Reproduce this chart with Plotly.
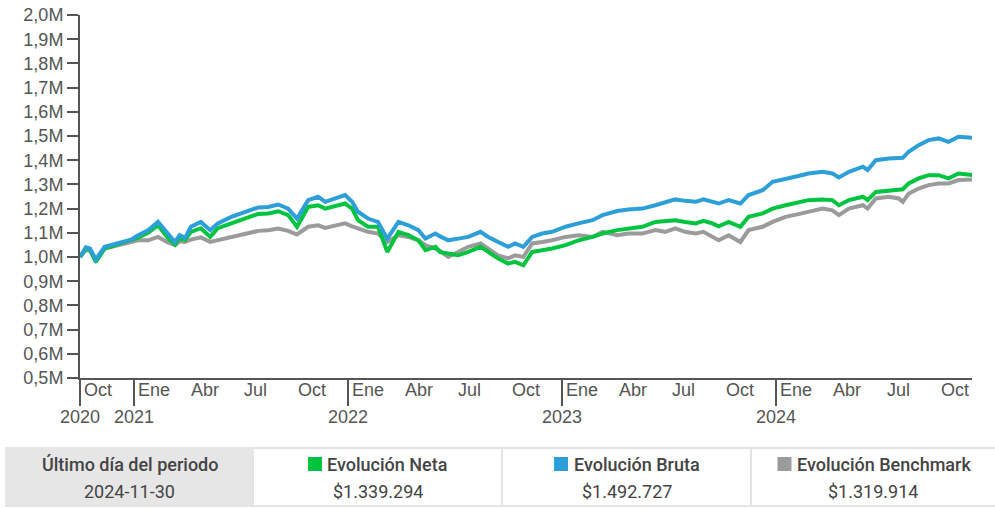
import plotly.graph_objects as go

# ---------------- data (values in millions) ----------------
dates = [
    "2020-10-01", "2020-10-11", "2020-10-18", "2020-10-28", "2020-11-12", "2020-12-05", "2020-12-27",
    "2021-01-08", "2021-01-25", "2021-02-11", "2021-02-28", "2021-03-12", "2021-03-20", "2021-03-29",
    "2021-04-08", "2021-04-25", "2021-05-11", "2021-05-24", "2021-06-16", "2021-07-09", "2021-08-01",
    "2021-08-18", "2021-09-04", "2021-09-21", "2021-10-06", "2021-10-25", "2021-11-11", "2021-11-23",
    "2021-12-10", "2021-12-27", "2022-01-08", "2022-01-18", "2022-02-04", "2022-02-21", "2022-03-09",
    "2022-03-28", "2022-04-14", "2022-05-01", "2022-05-13", "2022-05-30", "2022-06-07", "2022-06-21",
    "2022-07-08", "2022-07-25", "2022-08-15", "2022-08-28", "2022-09-14", "2022-10-01", "2022-10-13",
    "2022-10-27", "2022-11-11", "2022-11-28", "2022-12-15", "2023-01-07", "2023-01-29", "2023-02-22",
    "2023-03-11", "2023-04-05", "2023-04-24", "2023-05-18", "2023-06-09", "2023-06-26", "2023-07-13",
    "2023-07-30", "2023-08-17", "2023-08-30", "2023-09-14", "2023-09-25", "2023-10-12", "2023-11-01",
    "2023-11-15", "2023-12-09", "2023-12-26", "2024-01-17", "2024-02-08", "2024-02-25", "2024-03-20",
    "2024-04-06", "2024-04-17", "2024-05-04", "2024-05-28", "2024-06-05", "2024-06-19", "2024-07-11",
    "2024-07-28", "2024-08-04", "2024-08-14", "2024-08-31", "2024-09-17", "2024-10-04", "2024-10-21",
    "2024-11-07", "2024-11-30",
]

bruta = [
    1.000, 1.040, 1.035, 0.990, 1.042, 1.058, 1.072,
    1.090, 1.110, 1.145, 1.098, 1.062, 1.090, 1.078,
    1.125, 1.145, 1.111, 1.139, 1.166, 1.187, 1.205,
    1.207, 1.217, 1.200, 1.159, 1.235, 1.249, 1.228,
    1.242, 1.256, 1.228, 1.187, 1.159, 1.145, 1.076,
    1.145, 1.131, 1.111, 1.076, 1.097, 1.085, 1.069,
    1.076, 1.083, 1.104, 1.083, 1.062, 1.042, 1.056,
    1.042, 1.083, 1.097, 1.104, 1.125, 1.139, 1.152,
    1.173, 1.190, 1.196, 1.200, 1.214, 1.228, 1.238,
    1.232, 1.228, 1.238, 1.228, 1.221, 1.235, 1.221,
    1.256, 1.276, 1.311, 1.325, 1.335, 1.345, 1.352,
    1.345, 1.329, 1.352, 1.373, 1.359, 1.400, 1.407,
    1.411, 1.410, 1.435, 1.462, 1.483, 1.490, 1.476,
    1.497, 1.492727,
]

neta = [
    1.000, 1.035, 1.030, 0.980, 1.035, 1.052, 1.068,
    1.080, 1.100, 1.131, 1.078, 1.052, 1.080, 1.070,
    1.104, 1.119, 1.083, 1.119, 1.139, 1.159, 1.178,
    1.180, 1.189, 1.173, 1.125, 1.207, 1.214, 1.200,
    1.211, 1.221, 1.200, 1.152, 1.125, 1.125, 1.021,
    1.104, 1.090, 1.069, 1.028, 1.042, 1.020, 1.014,
    1.007, 1.021, 1.042, 1.021, 0.994, 0.973, 0.980,
    0.966, 1.021, 1.028, 1.035, 1.049, 1.069, 1.083,
    1.097, 1.111, 1.118, 1.125, 1.145, 1.149, 1.152,
    1.145, 1.139, 1.149, 1.139, 1.127, 1.145, 1.125,
    1.166, 1.180, 1.200, 1.214, 1.226, 1.235, 1.238,
    1.235, 1.214, 1.235, 1.249, 1.235, 1.269, 1.276,
    1.280, 1.280, 1.304, 1.325, 1.338, 1.338, 1.325,
    1.345, 1.339294,
]

benchmark = [
    1.000, 1.030, 1.025, 0.985, 1.035, 1.050, 1.062,
    1.069, 1.069, 1.083, 1.060, 1.049, 1.065, 1.062,
    1.072, 1.081, 1.062, 1.069, 1.083, 1.097, 1.108,
    1.111, 1.118, 1.108, 1.093, 1.125, 1.131, 1.120,
    1.131, 1.139, 1.127, 1.118, 1.104, 1.097, 1.062,
    1.090, 1.083, 1.069, 1.049, 1.035, 1.025, 1.000,
    1.021, 1.042, 1.056, 1.035, 1.007, 0.994, 1.007,
    1.000, 1.056, 1.062, 1.069, 1.083, 1.090, 1.083,
    1.104, 1.090, 1.097, 1.097, 1.111, 1.104, 1.118,
    1.104, 1.097, 1.104, 1.081, 1.069, 1.090, 1.062,
    1.111, 1.125, 1.145, 1.166, 1.177, 1.187, 1.200,
    1.193, 1.173, 1.200, 1.214, 1.200, 1.242, 1.249,
    1.242, 1.228, 1.262, 1.283, 1.297, 1.304, 1.304,
    1.318, 1.319914,
]

series_names = ["Evolución Neta", "Evolución Bruta", "Evolución Benchmark"]
series_colors = ["#00c43f", "#2c9fd9", "#9b9b9b"]
final_values = [1339294, 1492727, 1319914]
last_day = "2024-11-30"
first_day = "2020-10-01"

y_tick_vals = [0.5, 0.6, 0.7, 0.8, 0.9, 1.0, 1.1, 1.2, 1.3, 1.4, 1.5, 1.6, 1.7, 1.8, 1.9, 2.0]
y_tick_text = ["0,5M", "0,6M", "0,7M", "0,8M", "0,9M", "1,0M", "1,1M", "1,2M", "1,3M",
               "1,4M", "1,5M", "1,6M", "1,7M", "1,8M", "1,9M", "2,0M"]

month_dates = ["2020-10-01", "2021-01-01", "2021-04-01", "2021-07-01", "2021-10-01",
               "2022-01-01", "2022-04-01", "2022-07-01", "2022-10-01",
               "2023-01-01", "2023-04-01", "2023-07-01", "2023-10-01",
               "2024-01-01", "2024-04-01", "2024-07-01", "2024-10-01"]
month_labels = ["Oct", "Ene", "Abr", "Jul", "Oct", "Ene", "Abr", "Jul", "Oct",
                "Ene", "Abr", "Jul", "Oct", "Ene", "Abr", "Jul", "Oct"]
year_dates = ["2020-10-01", "2021-01-01", "2022-01-01", "2023-01-01", "2024-01-01"]
year_labels = ["2020", "2021", "2022", "2023", "2024"]

# ---------------- layout geometry ----------------
W, H = 995, 508
ML, MR, MT, MB = 80, 23, 15, 130
PW, PH = W - ML - MR, H - MT - MB


def px_x(px):
    return (px - ML) / PW


def px_y(py):
    return (H - MB - py) / PH


def fmt_money(v):
    return "$" + f"{v:,}".replace(",", ".")


AXFONT = "Liberation Sans, Arial"
AX = "#555555"

fig = go.Figure()
series_vals = [neta, bruta, benchmark]
for idx in [2, 0, 1]:
    fig.add_trace(go.Scatter(
        x=dates, y=series_vals[idx], mode="lines", name=series_names[idx],
        line=dict(color=series_colors[idx], width=4), hoverinfo="skip",
    ))

annotations = []
for d, lab in zip(month_dates, month_labels):
    annotations.append(dict(x=d, xref="x", y=px_y(390), yref="paper", text=lab,
                            xanchor="left", yanchor="middle", xshift=2, showarrow=False,
                            font=dict(family=AXFONT, size=18, color=AX)))
for d, lab in zip(year_dates, year_labels):
    annotations.append(dict(x=d, xref="x", y=px_y(417), yref="paper", text=lab,
                            xanchor="center", yanchor="middle", showarrow=False,
                            font=dict(family=AXFONT, size=18, color=AX)))

# ---------------- summary table under the chart ----------------
TXT = "#444444"
BORDER = "#e4e4e4"
cell_edges = [5, 254, 502, 751, 995]
top, bot = 447, 507
shapes = [
    dict(type="rect", xref="paper", yref="paper", x0=px_x(cell_edges[0]), x1=px_x(cell_edges[1]),
         y0=px_y(bot), y1=px_y(top), fillcolor="#e6e6e6", line=dict(width=0), layer="below"),
    dict(type="line", xref="paper", yref="paper", x0=px_x(cell_edges[1]), x1=px_x(cell_edges[4]),
         y0=px_y(448), y1=px_y(448), line=dict(color=BORDER, width=2)),
    dict(type="line", xref="paper", yref="paper", x0=px_x(cell_edges[0]), x1=px_x(cell_edges[4]),
         y0=px_y(506), y1=px_y(506), line=dict(color=BORDER, width=2)),
]
for e in cell_edges[2:4]:
    shapes.append(dict(type="line", xref="paper", yref="paper", x0=px_x(e), x1=px_x(e),
                       y0=px_y(bot), y1=px_y(top), line=dict(color=BORDER, width=2)))

annotations.append(dict(x=px_x(129.5), y=px_y(464), xref="paper", yref="paper",
                        text="Último día del periodo", showarrow=False, xanchor="center", yanchor="middle",
                        font=dict(family="Roboto", size=18, color=TXT, weight=500)))
annotations.append(dict(x=px_x(129.5), y=px_y(491), xref="paper", yref="paper",
                        text=last_day, showarrow=False, xanchor="center", yanchor="middle",
                        font=dict(family="Roboto", size=18, color=TXT)))

square_x = [308, 554, 777.5]
text_x = [325, 571.5, 795]
for i in range(3):
    cx = (cell_edges[i + 1] + cell_edges[i + 2]) / 2
    shapes.append(dict(type="rect", xref="paper", yref="paper",
                       x0=px_x(square_x[i]), x1=px_x(square_x[i] + 14),
                       y0=px_y(471), y1=px_y(457),
                       fillcolor=series_colors[i], line=dict(width=0)))
    annotations.append(dict(x=px_x(text_x[i]), y=px_y(464), xref="paper", yref="paper",
                            text=series_names[i], showarrow=False, xanchor="left", yanchor="middle",
                            font=dict(family="Roboto", size=18, color=TXT, weight=500)))
    annotations.append(dict(x=px_x(cx), y=px_y(491), xref="paper", yref="paper",
                            text=fmt_money(final_values[i]), showarrow=False, xanchor="center",
                            yanchor="middle", font=dict(family="Roboto", size=18, color=TXT)))

fig.update_layout(
    width=W, height=H,
    margin=dict(l=ML, r=MR, t=MT, b=MB, pad=0, autoexpand=False),
    paper_bgcolor="white", plot_bgcolor="white",
    showlegend=False,
    font=dict(family=AXFONT, size=18, color=AX),
    xaxis=dict(type="date", range=[first_day, last_day], showgrid=False, zeroline=False,
               showline=True, linecolor=AX, linewidth=2, automargin=False,
               ticks="outside", tickvals=year_dates, ticklen=26, tickwidth=2, tickcolor=AX,
               showticklabels=False, fixedrange=True),
    yaxis=dict(range=[0.5, 2.0], showgrid=False, zeroline=False, showline=True, automargin=False,
               linecolor=AX, linewidth=2, ticks="outside", ticklen=11, tickwidth=2, tickcolor=AX,
               tickvals=y_tick_vals, ticktext=y_tick_text,
               tickfont=dict(family=AXFONT, size=18, color=AX), fixedrange=True),
    annotations=annotations,
    shapes=shapes,
)

fig.write_html("out.html", post_script="document.body.style.margin='0';",
               config={"displayModeBar": False})
